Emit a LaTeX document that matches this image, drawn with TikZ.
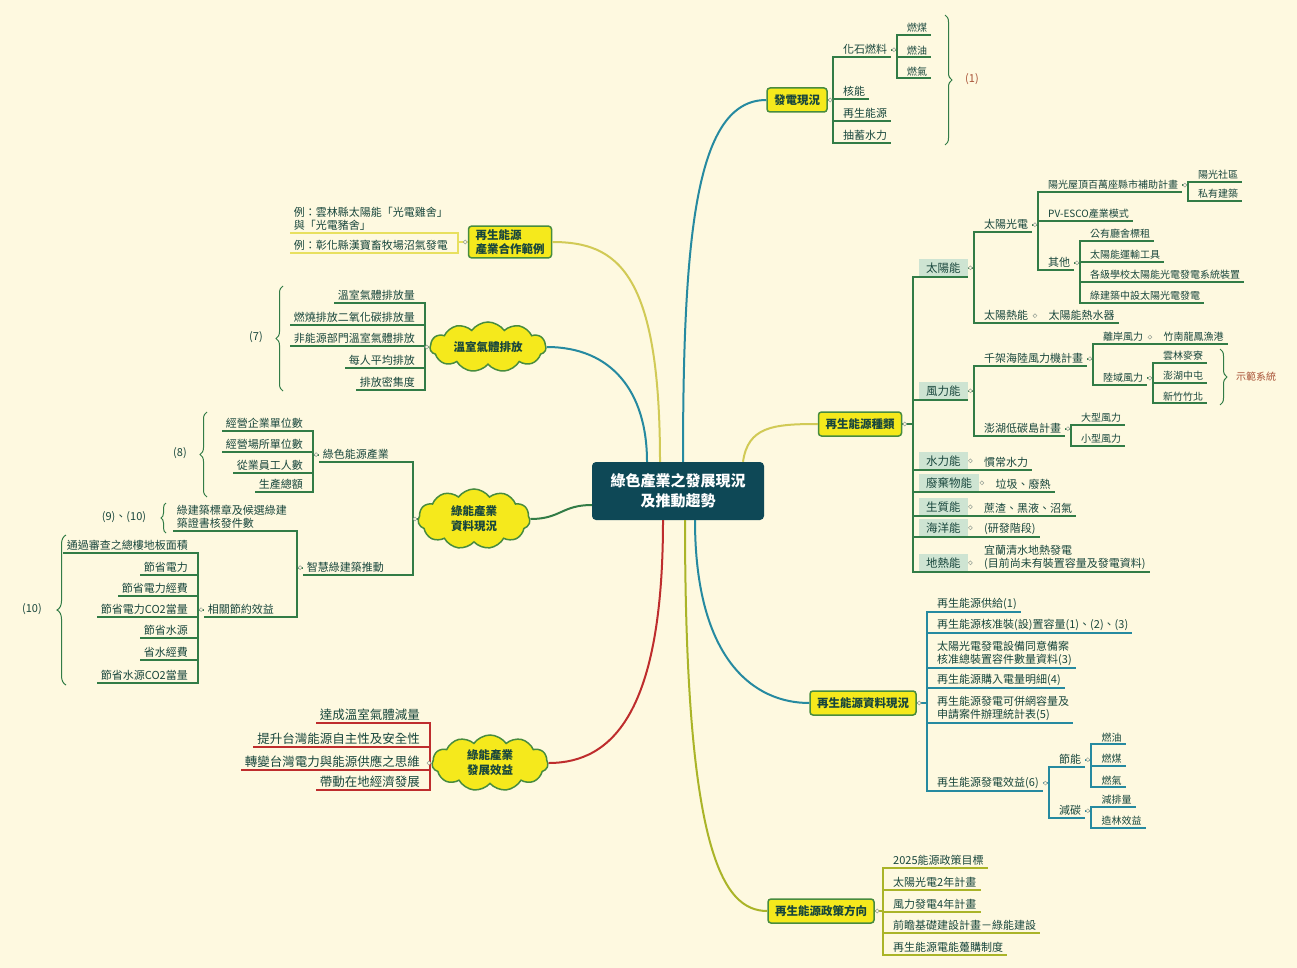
\documentclass[tikz,border=0pt]{standalone}
\usepackage{fontspec}
\setmainfont{Noto Sans CJK TC}
\usepackage{tikz}
\usepackage{color}
\usetikzlibrary{positioning,calc,shapes.symbols,decorations.pathreplacing}

\definecolor{bgcol}{RGB}{254,249,224}
\definecolor{hubcol}{RGB}{14,72,86}
\definecolor{boxyel}{RGB}{245,233,28}
\definecolor{boxedge}{RGB}{72,140,62}
\definecolor{subtint}{RGB}{206,228,210}
\definecolor{txt}{RGB}{24,70,60}
\definecolor{gcol}{RGB}{50,124,70}
\definecolor{tcol}{RGB}{38,138,160}
\definecolor{ocol}{RGB}{170,180,40}
\definecolor{rcol}{RGB}{190,45,45}
\definecolor{ycol}{RGB}{232,224,95}
\definecolor{brownc}{RGB}{168,82,55}
\definecolor{knobc}{RGB}{150,160,150}

\begin{document}
\begin{tikzpicture}[x=1pt,y=-1pt]
	% Define styles
	\tikzstyle{hub} = [rectangle, fill=hubcol, text=white, rounded corners=4pt,
	minimum width=172pt, minimum height=58pt, align=center, font=\fontsize{15}{20}\selectfont\bfseries]
	\tikzstyle{mainbox} = [rectangle, draw=boxedge, line width=1.5pt, fill=boxyel, rounded corners=3pt,
	minimum height=24pt, inner xsep=7pt, text=txt, font=\fontsize{11.5}{14}\selectfont\bfseries]
	\tikzstyle{cloudbox} = [cloud, cloud puffs=11, cloud puff arc=110, cloud ignores aspect,
	draw=boxedge, line width=1.5pt, fill=boxyel, text=txt, align=center, font=\fontsize{11.5}{15}\selectfont\bfseries]
	\tikzstyle{subbox} = [rectangle, fill=subtint, anchor=south west, inner xsep=7pt, inner ysep=2pt,
	minimum height=18pt, text=txt, font=\fontsize{11.5}{14}\selectfont] % tinted level box
	\tikzstyle{leaf} = [inner xsep=4pt, inner ysep=2pt, text=txt, align=left, font=\fontsize{11}{13}\selectfont]
	\tikzstyle{leafsm} = [leaf, font=\fontsize{10}{12}\selectfont]
	\tikzstyle{leafbig} = [leaf, font=\fontsize{12.5}{15}\selectfont]
	\tikzstyle{rleaf} = [leaf, anchor=south west]
	\tikzstyle{rsm} = [leafsm, anchor=south west]
	\tikzstyle{lleaf} = [leaf, anchor=south east]
	\tikzstyle{lbig} = [leafbig, anchor=south east]
	\tikzstyle{remark} = [text=txt, font=\fontsize{11}{13}\selectfont]
	\tikzstyle{knob} = [circle, draw=knobc, fill=bgcol, line width=0.5pt, inner sep=1.4pt]
	\tikzstyle{curly} = [decorate, decoration={brace, amplitude=7pt}, draw=gcol, line width=1pt]
	\tikzstyle{mainline} = [line width=2pt]
	\tikzstyle{gline} = [draw=gcol, line width=1.8pt]
	\tikzstyle{tline} = [draw=tcol, line width=1.8pt]
	\tikzstyle{oline} = [draw=ocol, line width=1.8pt]
	\tikzstyle{rline} = [draw=rcol, line width=1.8pt]
	\tikzstyle{yline} = [draw=ycol, line width=1.8pt]
	\tikzstyle{rbranch} = [to path={-| ([xshift=-6pt]\tikztotarget.south west) -- (\tikztotarget.south east)}]
	\tikzstyle{lbranch} = [to path={-| ([xshift=6pt]\tikztotarget.south east) -- (\tikztotarget.south west)}]

	\useasboundingbox (0,0) rectangle (1297,968);
	\fill [bgcol] (0,0) rectangle (1297,968);

	% Place nodes
	\node [hub] (hub) at (678,491) {綠色產業之發展現況\\及推動趨勢};
	\node [mainbox] (power) at (797,100) {發電現況};
	\node [mainbox] (kinds) at (860,424) {再生能源種類};
	\node [mainbox] (data) at (863,703) {再生能源資料現況};
	\node [mainbox] (policy) at (821,911) {再生能源政策方向};
	\node [mainbox, align=left] (coop) at (510,242) {再生能源\\產業合作範例};
	\node [cloudbox, minimum width=116pt, minimum height=50pt] (ghg) at (488,347) {溫室氣體排放};
	\node [cloudbox, minimum width=112pt, minimum height=60pt] (gdata) at (474,519) {綠能產業\\資料現況};
	\node [cloudbox, minimum width=116pt, minimum height=56pt] (gbenefit) at (490,763) {綠能產業\\發展效益};

	% power
	\node [rleaf] (fossil) at (839,57) {化石燃料};
	\node [rsm] (coal) at (903,35) {燃煤};
	\node [rsm] (oil) at (903,57) {燃油};
	\node [rsm] (gas) at (903,78) {燃氣};
	\node [rleaf] (nuclear) at (839,99) {核能};
	\node [rleaf] (renew) at (839,121) {再生能源};
	\node [rleaf] (pumped) at (839,143) {抽蓄水力};
	\node [remark, text=brownc] (n1) at (972,79) {(1)};

	% kinds: solar
	\node [subbox] (solar) at (919,277) {太陽能};
	\node [rleaf] (pv) at (980,232) {太陽光電};
	\node [rsm] (roof) at (1044,192) {陽光屋頂百萬座縣市補助計畫};
	\node [rsm] (comm) at (1194,182) {陽光社區};
	\node [rsm] (priv) at (1194,201) {私有建築};
	\node [rsm] (esco) at (1044,221) {PV-ESCO產業模式};
	\node [rleaf] (other) at (1044,270) {其他};
	\node [rsm] (lease) at (1086,241) {公有廳舍標租};
	\node [rsm] (vehicle) at (1086,262) {太陽能運輸工具};
	\node [rsm] (school) at (1086,282) {各級學校太陽能光電發電系統裝置};
	\node [rsm] (greenb) at (1086,303) {綠建築中設太陽光電發電};
	\node [rleaf] (thermal) at (980,323) {太陽熱能};
	\node [rleaf, right=12pt of thermal.south east, anchor=south west] (heater) {太陽能熱水器};

	% kinds: wind
	\node [subbox] (wind) at (919,400) {風力能};
	\node [rleaf] (wplan) at (980,366) {千架海陸風力機計畫};
	\node [rsm] (offshore) at (1099,344) {離岸風力};
	\node [rsm, right=12pt of offshore.south east, anchor=south west] (zhunan) {竹南龍鳳漁港};
	\node [rsm] (onshore) at (1099,385) {陸域風力};
	\node [rsm] (yunlin) at (1159,363) {雲林麥寮};
	\node [rsm] (penghu) at (1159,383) {澎湖中屯};
	\node [rsm] (hsinchu) at (1159,403) {新竹竹北};
	\node [remark, text=brownc, font=\fontsize{10}{12}\selectfont] (demo) at (1256,377) {示範系統};
	\node [rleaf] (lowc) at (980,436) {澎湖低碳島計畫};
	\node [rsm] (bigwind) at (1077,425) {大型風力};
	\node [rsm] (smallwind) at (1077,446) {小型風力};

	% kinds: one-line branches
	\node [subbox] (hydro) at (919,470) {水力能};
	\node [rleaf, right=12pt of hydro.south east, anchor=south west] (conv) {慣常水力};
	\node [subbox] (waste) at (919,492) {廢棄物能};
	\node [rleaf, right=12pt of waste.south east, anchor=south west] (wheat) {垃圾、廢熱};
	\node [subbox] (bio) at (919,516) {生質能};
	\node [rleaf, right=12pt of bio.south east, anchor=south west] (biogas) {蔗渣、黑液、沼氣};
	\node [subbox] (ocean) at (919,537) {海洋能};
	\node [rleaf, right=12pt of ocean.south east, anchor=south west] (rnd) {(研發階段)};
	\node [subbox] (geo) at (919,572) {地熱能};
	\node [rleaf, right=12pt of geo.south east, anchor=south west] (geoel) {宜蘭清水地熱發電\\(目前尚未有裝置容量及發電資料)};

	% data
	\node [rleaf] (d1) at (933,612) {再生能源供給(1)};
	\node [rleaf] (d2) at (933,633) {再生能源核准裝(設)置容量(1)、(2)、(3)};
	\node [rleaf] (d3) at (933,668) {太陽光電發電設備同意備案\\核准總裝置容件數量資料(3)};
	\node [rleaf] (d4) at (933,688) {再生能源購入電量明細(4)};
	\node [rleaf] (d5) at (933,723) {再生能源發電可併網容量及\\申請案件辦理統計表(5)};
	\node [rleaf] (d6) at (933,791) {再生能源發電效益(6)};
	\node [rleaf] (save) at ($(d6.east |- 0,767)+(12,0)$) {節能};
	\node [rsm] (s1) at ($(save.east |- 0,744)+(12,0)$) {燃油};
	\node [rsm] (s2) at ($(save.east |- 0,766)+(12,0)$) {燃煤};
	\node [rsm] (s3) at ($(save.east |- 0,787)+(12,0)$) {燃氣};
	\node [rleaf] (cut) at ($(d6.east |- 0,818)+(12,0)$) {減碳};
	\node [rsm] (c1) at ($(cut.east |- 0,807)+(12,0)$) {減排量};
	\node [rsm] (c2) at ($(cut.east |- 0,828)+(12,0)$) {造林效益};

	% policy
	\node [rleaf] (p1) at (889,868) {2025能源政策目標};
	\node [rleaf] (p2) at (889,890) {太陽光電2年計畫};
	\node [rleaf] (p3) at (889,912) {風力發電4年計畫};
	\node [rleaf] (p4) at (889,933) {前瞻基礎建設計畫－綠能建設};
	\node [rleaf] (p5) at (889,955) {再生能源電能躉購制度};

	% coop
	\node [lleaf] (ex1) at (452,233) {例：雲林縣太陽能「光電雞舍」\\與「光電豬舍」};
	\node [lleaf] (ex2) at (452,253) {例：彰化縣漢寶畜牧場沼氣發電};

	% ghg
	\node [lleaf] (g1) at (419,303) {溫室氣體排放量};
	\node [lleaf] (g2) at (419,325) {燃燒排放二氧化碳排放量};
	\node [lleaf] (g3) at (419,346) {非能源部門溫室氣體排放};
	\node [lleaf] (g4) at (419,368) {每人平均排放};
	\node [lleaf] (g5) at (419,390) {排放密集度};
	\node [remark] (n7) at (256,337) {(7)};

	% gdata
	\node [lleaf, text width=80pt] (gi) at (407,462) {綠色能源產業};
	\node [lleaf] (e1) at (307,431) {經營企業單位數};
	\node [lleaf] (e2) at (307,452) {經營場所單位數};
	\node [lleaf] (e3) at (307,473) {從業員工人數};
	\node [lleaf] (e4) at (307,492) {生產總額};
	\node [remark] (n8) at (180,453) {(8)};
	\node [lleaf, text width=96pt] (smart) at (407,575) {智慧綠建築推動};
	\node [lleaf] (cert) at (291,531) {綠建築標章及候選綠建\\築證書核發件數};
	\node [remark] (n9) at (124,517) {(9)、(10)};
	\node [lleaf, text width=79pt] (saving) at (291,617) {相關節約效益};
	\node [lleaf] (sv1) at (192,553) {通過審查之總樓地板面積};
	\node [lleaf] (sv2) at (192,575) {節省電力};
	\node [lleaf] (sv3) at (192,596) {節省電力經費};
	\node [lleaf] (sv4) at (192,617) {節省電力CO2當量};
	\node [lleaf] (sv5) at (192,638) {節省水源};
	\node [lleaf] (sv6) at (192,660) {省水經費};
	\node [lleaf] (sv7) at (192,683) {節省水源CO2當量};
	\node [remark] (n10) at (32,609) {(10)};

	% gbenefit
	\node [lbig] (b1) at (424,723) {達成溫室氣體減量};
	\node [lbig] (b2) at (424,747) {提升台灣能源自主性及安全性};
	\node [lbig] (b3) at (424,770) {轉變台灣電力與能源供應之思維};
	\node [lbig] (b4) at (424,790) {帶動在地經濟發展};

	% Draw main curves
	\draw [mainline, draw=tcol] ([xshift=5pt]hub.north) .. controls +(0,-230) and +(-70,0) .. (power.west);
	\draw [mainline, draw=ycol!90!black] ([xshift=65pt]hub.north) .. controls +(5,-35) and +(-45,0) .. (kinds.west);
	\draw [mainline, draw=tcol] ([xshift=17pt]hub.south) .. controls +(0,140) and +(-55,0) .. (data.west);
	\draw [mainline, draw=ocol] ([xshift=7pt]hub.south) .. controls +(0,330) and +(-45,0) .. (policy.west);
	\draw [mainline, draw=rcol] ([xshift=-15pt]hub.south) .. controls +(0,190) and +(65,0) .. (gbenefit.east);
	\draw [mainline, draw=gcol] ([yshift=-14pt]hub.west) .. controls +(-30,0) and +(30,0) .. (gdata.east);
	\draw [mainline, draw=tcol] ([xshift=-31pt]hub.north) .. controls +(0,-70) and +(65,0) .. (ghg.east);
	\draw [mainline, draw=ycol!90!black] ([xshift=-18pt]hub.north) .. controls +(0,-190) and +(65,0) .. (coop.east);

	% Draw branches
	\foreach \c in {fossil,nuclear,renew,pumped} \draw [gline] (power.east) to[rbranch] (\c);
	\foreach \c in {coal,oil,gas} \draw [gline] (fossil.east) to[rbranch] (\c);
	\foreach \c in {solar,wind,hydro,waste,bio,ocean,geo} \draw [gline] (kinds.east) to[rbranch] (\c);
	\foreach \c in {pv,thermal} \draw [gline] (solar.east) to[rbranch] (\c);
	\foreach \c in {roof,esco,other} \draw [gline] (pv.east) to[rbranch] (\c);
	\foreach \c in {comm,priv} \draw [gline] (roof.east) to[rbranch] (\c);
	\foreach \c in {lease,vehicle,school,greenb} \draw [gline] (other.east) to[rbranch] (\c);
	\foreach \c in {wplan,lowc} \draw [gline] (wind.east) to[rbranch] (\c);
	\foreach \c in {offshore,onshore} \draw [gline] (wplan.east) to[rbranch] (\c);
	\foreach \c in {yunlin,penghu,hsinchu} \draw [gline] (onshore.east) to[rbranch] (\c);
	\foreach \c in {bigwind,smallwind} \draw [gline] (lowc.east) to[rbranch] (\c);
	\draw [gline] (thermal.south east) -- (heater.south east); % one child: same line
	\draw [gline] (offshore.south east) -- (zhunan.south east);
	\draw [gline] (hydro.south east) -- (conv.south east);
	\draw [gline] (waste.south east) -- (wheat.south east);
	\draw [gline] (bio.south east) -- (biogas.south east);
	\draw [gline] (ocean.south east) -- (rnd.south east);
	\draw [gline] (geo.south east) -- (geoel.south east);

	\foreach \c in {d1,d2,d3,d4,d5,d6} \draw [tline] (data.east) to[rbranch] (\c);
	\foreach \c in {save,cut} \draw [tline] (d6.east) to[rbranch] (\c);
	\foreach \c in {s1,s2,s3} \draw [tline] (save.east) to[rbranch] (\c);
	\foreach \c in {c1,c2} \draw [tline] (cut.east) to[rbranch] (\c);
	\foreach \c in {p1,p2,p3,p4,p5} \draw [oline] (policy.east) to[rbranch] (\c);

	\foreach \c in {ex1,ex2} \draw [yline] (coop.west) to[lbranch] (\c);
	\foreach \c in {g1,g2,g3,g4,g5} \draw [gline] (ghg.west) to[lbranch] (\c);
	\foreach \c in {gi,smart} \draw [gline] (gdata.west) to[lbranch] (\c);
	\foreach \c in {e1,e2,e3,e4} \draw [gline] (gi.west) to[lbranch] (\c);
	\foreach \c in {cert,saving} \draw [gline] (smart.west) to[lbranch] (\c);
	\foreach \c in {sv1,sv2,sv3,sv4,sv5,sv6,sv7} \draw [gline] (saving.west) to[lbranch] (\c);
	\foreach \c in {b1,b2,b3,b4} \draw [rline] (gbenefit.west) to[lbranch] (\c);

	% Braces
	\draw [curly] (945,15) -- (945,145);
	\draw [curly] (1220,349) -- (1220,405);
	\draw [curly] (283,391) -- (283,286);
	\draw [curly] (207,497) -- (207,412);
	\draw [curly, decoration={brace, amplitude=5pt}] (166,533) -- (166,503);
	\draw [curly, decoration={brace, amplitude=9pt}] (66,685) -- (66,535);

	% Fold knobs
	\foreach \n in {power,kinds,data,policy,fossil,solar,pv,roof,other,thermal,wind,wplan,offshore,onshore,lowc,hydro,waste,bio,ocean,geo,d6,save,cut}
		\node [knob] (k-\n) at ([xshift=2.5pt]\n.east) {};
	\foreach \n in {coop,ghg,gdata,gbenefit,gi,smart,saving}
		\node [knob] (k-\n) at ([xshift=-2.5pt]\n.west) {};
\end{tikzpicture}
\end{document}
